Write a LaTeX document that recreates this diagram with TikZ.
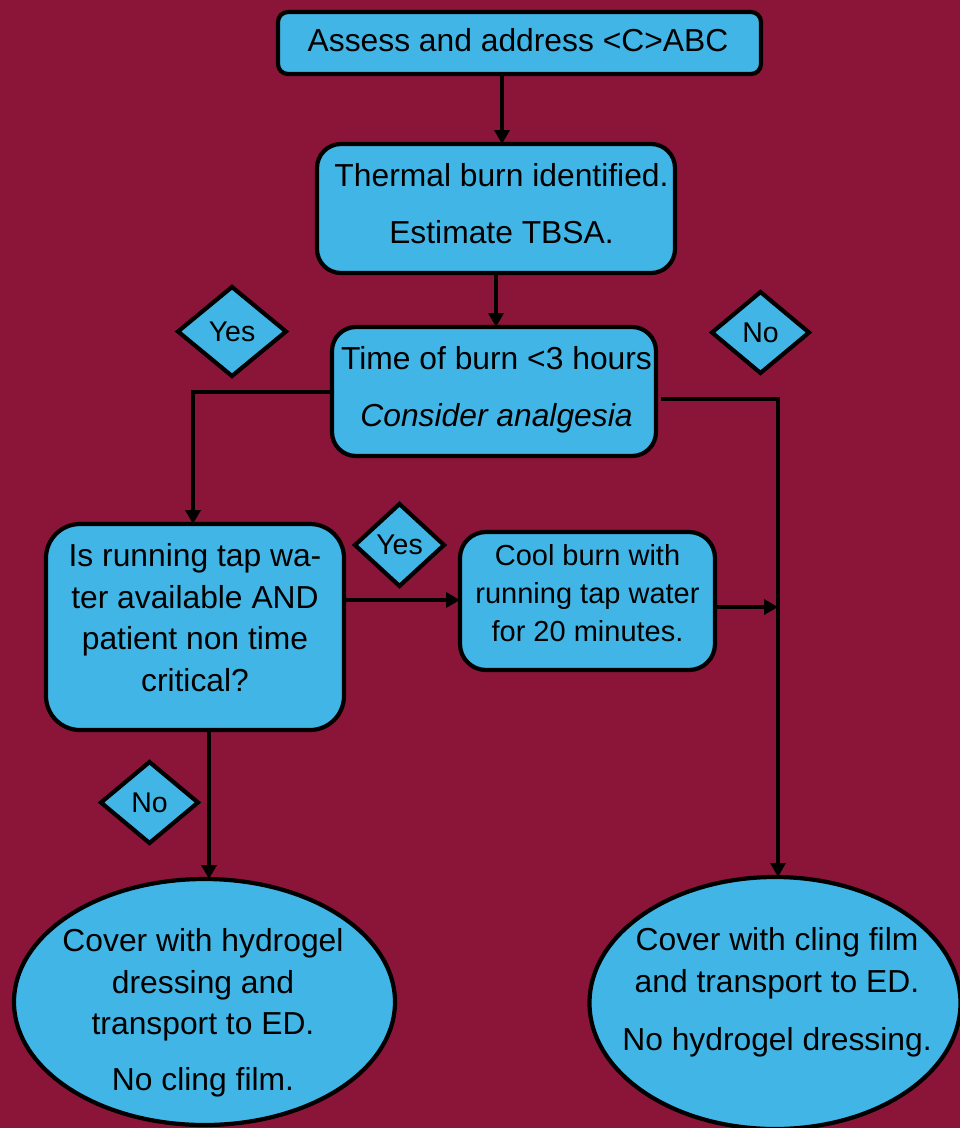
\documentclass[tikz,border=0pt]{standalone}
\usepackage{fontspec}
\setmainfont{Liberation Sans}
\usetikzlibrary{shapes.geometric,arrows.meta}
\definecolor{bgred}{RGB}{139,21,56}
\definecolor{nodeblue}{RGB}{65,182,230}
\begin{document}
\begin{tikzpicture}[x=1pt,y=-1pt,
  every node/.style={inner sep=0pt, outer sep=0pt},
  shapebase/.style={draw=black, line width=4.2pt, fill=nodeblue},
  box/.style={shapebase, rectangle},
  dia/.style={shapebase, diamond, font=\fontsize{28.5}{34}\selectfont},
  ell/.style={shapebase, ellipse},
  txt/.style={align=center, font=\fontsize{31.8}{41.5}\selectfont},
  smalltxt/.style={align=center, font=\fontsize{29}{38}\selectfont},
  arr/.style={line width=4pt, -{Triangle[length=14pt,width=15pt]}}
]
\fill[bgred] (0,0) rectangle (960,1128);
\useasboundingbox (0,0) rectangle (960,1128);

% shapes
\node[box, rounded corners=10pt, minimum width=483, minimum height=62] (topbox) at (519.5,43) {};
\node[box, rounded corners=24pt, minimum width=358, minimum height=129] (thermal) at (496,208.5) {};
\node[box, rounded corners=24pt, minimum width=324, minimum height=129] (time) at (494,391.5) {};
\node[box, rounded corners=34pt, minimum width=298, minimum height=206] (run) at (195,627) {};
\node[box, rounded corners=26pt, minimum width=255, minimum height=138] (cool) at (587.5,601) {};
\node[ell, minimum width=381, minimum height=246] (lell) at (204.5,1002) {};
\node[ell, minimum width=371, minimum height=252] (rell) at (775,1003) {};

% decision labels
\node[dia, minimum width=108, minimum height=89] (yes1) at (232,331.5) {Yes};
\node[dia, minimum width=97, minimum height=81] (no1) at (760.5,332.5) {No};
\node[dia, minimum width=89, minimum height=82] (yes2) at (399.5,545) {Yes};
\node[dia, minimum width=97, minimum height=81] (no2) at (149.5,802.5) {No};

% texts
\node[txt] (toptext) at (518,40.5) {Assess and address <C>ABC};
\node[txt] (thermaltext) at (501.5,203.5) {Thermal burn identified.\\[15pt]Estimate TBSA.};
\node[txt] (timetext) at (496.5,390) {Time of burn <3 hours\\[15pt]\textit{Consider analgesia}};
\node[txt] (runtext) at (195,617.4) {Is running tap wa-\\ter available AND\\patient non time\\critical?};
\node[smalltxt] (cooltext) at (587.5,593.1) {Cool burn with\\running tap water\\for 20 minutes.};
\node[txt] (ltext) at (203,1012.7) {Cover with hydrogel\\dressing and\\transport to ED.\\[14pt]No cling film.};
\node[txt] (rtext) at (777,992.3) {Cover with cling film\\and transport to ED.\\[16.6pt]No hydrogel dressing.};

% connectors
\coordinate (corner) at (778,399);
\draw[arr] ([xshift=-17.5pt]topbox.south) -- ([xshift=-17.5pt]topbox.south |- thermal.north);
\draw[arr] (thermal.south) -- (thermal.south |- time.north);
\draw[arr] (time.west) -| ([xshift=-2pt]run.north);
\draw[arr] ([xshift=5pt,yshift=-7.5pt]time.east) -- (corner) -- (corner |- rell.north);
\draw[arr] ([yshift=27pt]run.east) -- ([yshift=27pt]run.east -| cool.west);
\draw[arr] ([yshift=-6pt]cool.east) -- ([yshift=-6pt]cool.east -| corner);
\draw[arr] ([xshift=14pt]run.south) -- ([xshift=14pt]run.south |- lell.north);
\end{tikzpicture}
\end{document}
